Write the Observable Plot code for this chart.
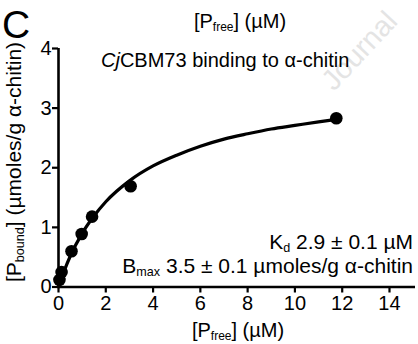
<!DOCTYPE html>
<html>
<head>
<meta charset="utf-8">
<script src="https://cdn.jsdelivr.net/npm/d3@7"></script>
<script src="https://cdn.jsdelivr.net/npm/@observablehq/plot@0.6"></script>
<style>
  html, body { margin: 0; padding: 0; background: white; }
  #chart { width: 418px; height: 344px; overflow: hidden; }
</style>
</head>
<body>
<div id="chart"></div>
<script>
const freeConc = [0.04, 0.13, 0.55, 0.98, 1.42, 3.05, 11.75];
const boundConc = [0.12, 0.25, 0.60, 0.89, 1.18, 1.69, 2.83];

// Fitted curve, values
const curveX = [0, 0.25, 0.5, 1, 1.5, 2, 3, 4, 5, 6, 7, 8, 9, 10, 11, 11.75];
const curveY = [0, 0.28, 0.52, 0.90, 1.19, 1.43, 1.78, 2.03, 2.21, 2.36, 2.48, 2.57, 2.65, 2.71, 2.77, 2.81];

const xTicks = [0, 2, 4, 6, 8, 10, 12, 14];
const yTicks = [0, 1, 2, 3, 4];

const panelLetter = "C";
const headerLabel = {main: "[P", sub: "free", rest: "] (µM)"};
const titleItalic = "Cj";
const titleRest = "CBM73 binding to α-chitin";
const kdLabel = {main: "K", sub: "d", rest: " 2.9 ± 0.1 µM"};
const bmaxLabel = {main: "B", sub: "max", rest: " 3.5 ± 0.1 µmoles/g α-chitin"};
const xLabel = {main: "[P", sub: "free", rest: "] (µM)"};
const yLabel = {main: "[P", sub: "bound", rest: "] (µmoles/g α-chitin)"};
const watermark = "Journal";

const points = freeConc.map((x, i) => ({x, y: boundConc[i]}));
const curve = curveX.map((x, i) => ({x, y: curveY[i]}));

const W = 418, H = 344;
const plot = Plot.plot({
  width: W,
  height: H,
  marginLeft: 58,
  marginRight: 3,
  marginTop: 48,
  marginBottom: 57.5,
  style: {fontFamily: "'Liberation Sans', Arial, sans-serif", fontSize: "20px", color: "black", background: "white", overflow: "visible"},
  x: {domain: [0, 15.1]},
  y: {domain: [0, 4]},
  marks: [
    Plot.axisX({ticks: xTicks, tickSize: 6, tickPadding: 3, strokeWidth: 2.2, fontSize: 20, label: null, tickFormat: d => String(d)}),
    Plot.axisY({ticks: yTicks, tickSize: 6, tickPadding: 1, strokeWidth: 2.2, fontSize: 20, label: null, tickFormat: d => String(d)}),
    Plot.ruleY([0], {x1: 0, x2: 15.1, stroke: "black", strokeWidth: 2.6}),
    Plot.ruleX([0], {y1: 0, y2: 4, stroke: "black", strokeWidth: 2.6}),
    Plot.line(curve, {x: "x", y: "y", curve: "monotone-x", stroke: "black", strokeWidth: 3.2}),
    Plot.dot(points, {x: "x", y: "y", r: 6.3, fill: "black", stroke: "none"})
  ]
});

const svg = d3.select(plot);
const font = "'Liberation Sans', Arial, sans-serif";

function subText(g, lab, x, y, size, anchor, rotate) {
  const t = g.append("text")
    .attr("font-family", font)
    .attr("font-size", size)
    .attr("fill", "black")
    .attr("text-anchor", anchor)
    .attr("transform", `translate(${x},${y})` + (rotate ? ` rotate(${rotate})` : ""));
  t.append("tspan").text(lab.main);
  t.append("tspan").attr("font-size", size * 0.6).attr("dy", size * 0.15).text(lab.sub);
  t.append("tspan").attr("dy", -size * 0.15).text(lab.rest);
  return t;
}

// Watermark
svg.append("text")
  .attr("font-family", font)
  .attr("font-size", 29)
  .attr("fill", "#e4e4e4")
  .attr("text-anchor", "start")
  .attr("transform", "translate(334,92) rotate(-47)")
  .text(watermark);

// Panel letter
svg.append("text")
  .attr("font-family", font)
  .attr("font-size", 39)
  .attr("fill", "black")
  .attr("text-anchor", "start")
  .attr("x", 2).attr("y", 38)
  .text(panelLetter);

// Header (cropped axis label from panel above)
subText(svg, headerLabel, 240, 28, 20, "middle");

// Title
const tt = svg.append("text")
  .attr("font-family", font)
  .attr("font-size", 20)
  .attr("fill", "black")
  .attr("text-anchor", "start")
  .attr("x", 101).attr("y", 67);
tt.append("tspan").attr("font-style", "italic").text(titleItalic);
tt.append("tspan").text(titleRest);

// Annotations
subText(svg, kdLabel, 413, 249, 21, "end");
subText(svg, bmaxLabel, 413, 273, 21, "end");

// Axis labels
subText(svg, xLabel, 238, 337, 20, "middle");
subText(svg, yLabel, 20.5, 162, 21, "middle", -90);

document.getElementById("chart").appendChild(plot);
</script>
</body>
</html>
